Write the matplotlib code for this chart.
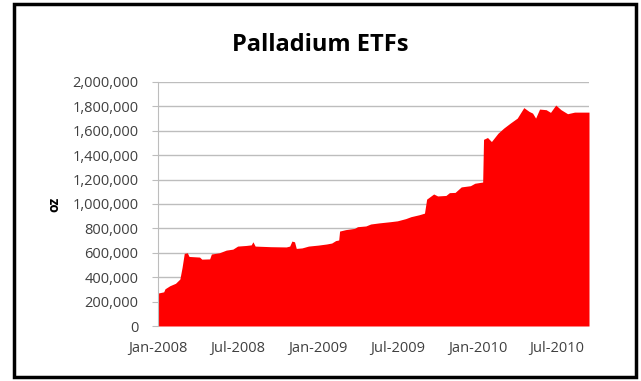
import matplotlib
matplotlib.use("Agg")
import matplotlib.pyplot as plt
import matplotlib.dates as mdates
import numpy as np
from matplotlib.patches import Rectangle
from matplotlib.ticker import FuncFormatter, MultipleLocator

# holdings (oz)
dates = [
    "2008-01-01", "2008-01-14", "2008-01-17", "2008-01-28", "2008-02-10",
    "2008-02-20", "2008-02-25", "2008-03-01", "2008-03-08", "2008-03-12",
    "2008-04-05", "2008-04-10", "2008-04-28", "2008-05-02", "2008-05-20",
    "2008-06-05", "2008-06-20", "2008-07-01", "2008-07-20", "2008-08-01",
    "2008-08-05", "2008-08-10", "2008-09-15", "2008-10-20", "2008-10-28",
    "2008-11-02", "2008-11-08", "2008-11-12", "2008-11-25", "2008-12-10",
    "2009-01-01", "2009-01-20", "2009-02-01", "2009-02-10", "2009-02-17",
    "2009-02-19", "2009-03-05", "2009-03-25", "2009-04-01", "2009-04-20",
    "2009-05-01", "2009-05-20", "2009-06-15", "2009-07-01", "2009-07-20",
    "2009-08-01", "2009-08-20", "2009-09-01", "2009-09-06", "2009-09-22",
    "2009-10-01", "2009-10-20", "2009-10-28", "2009-11-10", "2009-11-24",
    "2009-12-15", "2009-12-25", "2010-01-12", "2010-01-14", "2010-01-23",
    "2010-02-01", "2010-02-16", "2010-03-01", "2010-03-16", "2010-04-01",
    "2010-04-16", "2010-04-28", "2010-05-06", "2010-05-13", "2010-05-22",
    "2010-06-06", "2010-06-16", "2010-06-28", "2010-07-10", "2010-07-25",
    "2010-08-10", "2010-09-12",
]
ounces = [
    270000, 280000, 305000, 330000, 350000,
    385000, 480000, 595000, 600000, 570000,
    565000, 548000, 550000, 590000, 600000,
    622000, 630000, 655000, 660000, 665000,
    690000, 655000, 650000, 648000, 655000,
    696000, 690000, 636000, 640000, 655000,
    663000, 672000, 680000, 700000, 705000,
    778000, 790000, 800000, 814000, 820000,
    836000, 845000, 855000, 862000, 880000,
    896000, 912000, 925000, 1040000, 1082000,
    1066000, 1070000, 1093000, 1095000, 1140000,
    1150000, 1170000, 1180000, 1530000, 1545000,
    1512000, 1580000, 1622000, 1663000, 1704000,
    1790000, 1759000, 1745000, 1704000, 1778000,
    1773000, 1751000, 1811000, 1773000, 1740000,
    1753000, 1753000,
]
tick_dates = ["2008-01-01", "2008-07-01", "2009-01-01",
              "2009-07-01", "2010-01-01", "2010-07-01"]

x = np.array(dates, dtype="datetime64[D]")
ticks = np.array(tick_dates, dtype="datetime64[D]")

fig = plt.figure(figsize=(6.41, 3.81), dpi=100)
ax = fig.add_axes([158 / 641, 1 - 326 / 381, (589 - 158) / 641, (326 - 82) / 381])

ax.fill_between(x, ounces, 0, color="#ff0000", linewidth=0, zorder=2)

ax.set_ylim(0, 2000000)
ax.set_xlim(x[0], x[-1])
ax.yaxis.set_major_locator(MultipleLocator(200000))
ax.yaxis.set_major_formatter(FuncFormatter(lambda v, _: f"{int(v):,}"))
ax.set_xticks(ticks)
ax.xaxis.set_major_formatter(mdates.DateFormatter("%b-%Y"))

ax.grid(axis="y", color="#bdbdbd", linewidth=1, zorder=0)
ax.set_axisbelow(True)
for side in ["top", "right", "bottom"]:
    ax.spines[side].set_visible(False)
ax.spines["left"].set_color("#bdbdbd")
ax.tick_params(axis="y", length=4, color="#bdbdbd", labelsize=10.5, labelcolor="#404040", pad=10)
ax.tick_params(axis="x", length=0, labelsize=10.5, labelcolor="#404040", pad=11)
for lab in ax.get_xticklabels() + ax.get_yticklabels():
    lab.set_family("Open Sans")

ax.set_ylabel("oz", fontsize=10, fontweight="bold", family="Open Sans", labelpad=8)
fig.text(320 / 641, 1 - 45 / 381, "Palladium ETFs", ha="center", va="center",
         fontsize=17, fontweight="bold", family="Open Sans")

fig.patches.append(Rectangle((14 / 641, 4 / 381), (636 - 14) / 641, (377 - 4) / 381,
                             transform=fig.transFigure, fill=False,
                             edgecolor="black", linewidth=2.5))

fig.savefig("out.png", dpi=100)
